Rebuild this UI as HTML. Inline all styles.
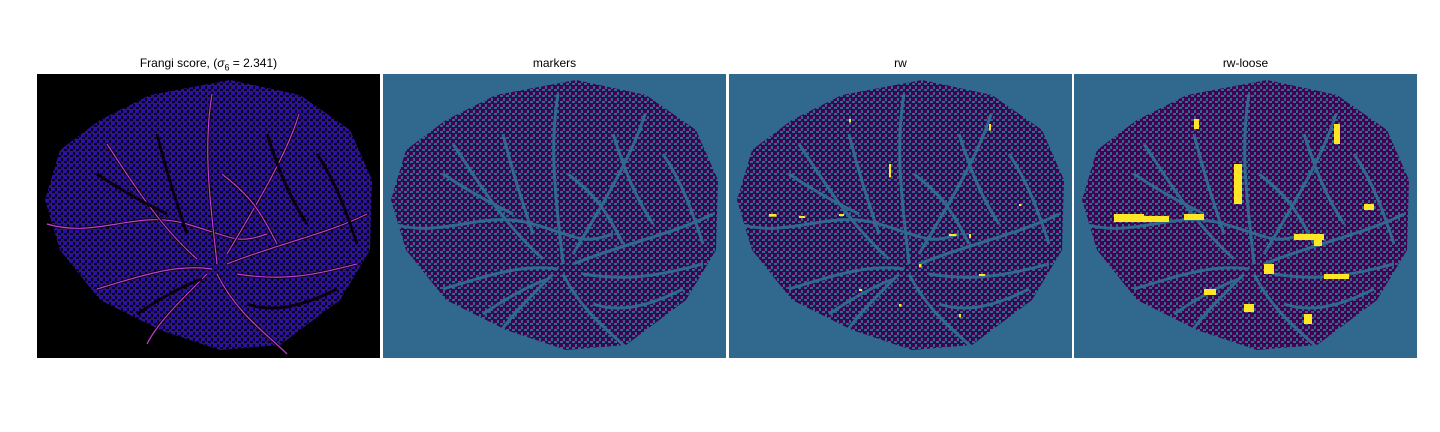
<!DOCTYPE html>
<html><head><meta charset="utf-8"><style>
body{margin:0;background:#fff;width:1440px;height:432px;overflow:hidden;font-family:"Liberation Sans",sans-serif}
.t{position:absolute;top:56px;font-size:12px;color:#000;text-align:center;width:343px}
svg{position:absolute;top:74px}
</style></head><body>
<div class="t" style="left:37px">Frangi score, (<i>σ</i><sub style="font-size:9px">6</sub> = 2.341)</div>
<div class="t" style="left:383px">markers</div>
<div class="t" style="left:729px">rw</div>
<div class="t" style="left:1074px">rw-loose</div>
<div id="wrap"></div>
<script>
const panelX=[37,383,729,1074];
const blob="M63 46 L113 21 L193 6 L263 21 L313 56 L335 106 L333 176 L303 226 L243 271 L183 276 L123 256 L63 226 L23 176 L8 126 L23 76 Z";
const vessels=["M10 150 C60 165 100 135 150 150 S200 170 230 160","M180 190 C175 140 165 80 175 20","M190 180 C220 130 250 80 262 40","M190 190 C240 170 290 160 330 140","M180 200 C200 240 230 260 250 280","M200 200 C250 208 280 200 320 190","M170 200 C140 230 120 250 110 270","M160 185 C120 150 90 100 70 70","M175 195 C140 190 110 200 60 215","M185 100 C210 120 220 130 240 170","M120 60 C130 100 140 130 150 160","M230 60 C240 90 250 120 270 150","M60 100 C90 120 110 130 130 140","M280 80 C300 110 310 140 320 170","M100 240 C130 220 150 210 165 205","M210 230 C240 240 270 230 300 215"];
const yellow=[[40,140,30,8],[70,142,25,6],[110,140,20,6],[160,90,8,40],[220,160,30,6],[250,200,25,5],[130,215,12,6],[190,190,10,10],[260,50,6,20],[290,130,10,6],[240,160,8,12],[170,230,10,8],[120,45,5,10],[230,240,8,10]];
const conf=[
 {bg:"#000",fill:"#2c10a4",dot:"#080018",ves:"#0a0010",w:3,inner:"#c040d0"},
 {bg:"#31688e",fill:"#440154",dot:"#31688e",ves:"#31688e",w:3},
 {bg:"#31688e",fill:"#440154",dot:"#31688e",ves:"#31688e",w:3},
 {bg:"#31688e",fill:"#440154",dot:"#31688e",ves:"#31688e",w:3}];
const names=["frangi-panel","markers-panel","rw-panel","rw-loose-panel"];
let html="";
panelX.forEach((x,i)=>{
 const c=conf[i];
 let s=`<svg width="343" height="284" style="left:${x}px"><defs><pattern id="p${i}" width="6" height="6" patternUnits="userSpaceOnUse"><rect width="6" height="6" fill="${c.fill}"/><rect x="0" y="0" width="2" height="3" fill="${c.dot}"/><rect x="3" y="3" width="3" height="2" fill="${c.dot}"/></pattern></defs><rect width="343" height="284" fill="${c.bg}"/><path d="${blob}" fill="url(#p${i})"/>`;
 vessels.forEach((v,k)=>{s+=`<path d="${v}" fill="none" stroke="${c.ves}" stroke-width="${c.w}"/>`;
  if(c.inner&&k<10) s+=`<path d="${v}" fill="none" stroke="${c.inner}" stroke-width="1.2"/>`;});
 if(i===3) yellow.forEach(r=>{s+=`<rect x="${r[0]}" y="${r[1]}" width="${r[2]}" height="${r[3]}" fill="#fde725"/>`;});
 if(i===2) yellow.forEach(r=>{s+=`<rect x="${r[0]}" y="${r[1]}" width="${Math.max(2,r[2]/4)}" height="${Math.max(2,r[3]/3)}" fill="#fde725"/>`;});
 s+="</svg>";html+=s;
});
document.getElementById("wrap").innerHTML=html;
</script>
</body></html>
